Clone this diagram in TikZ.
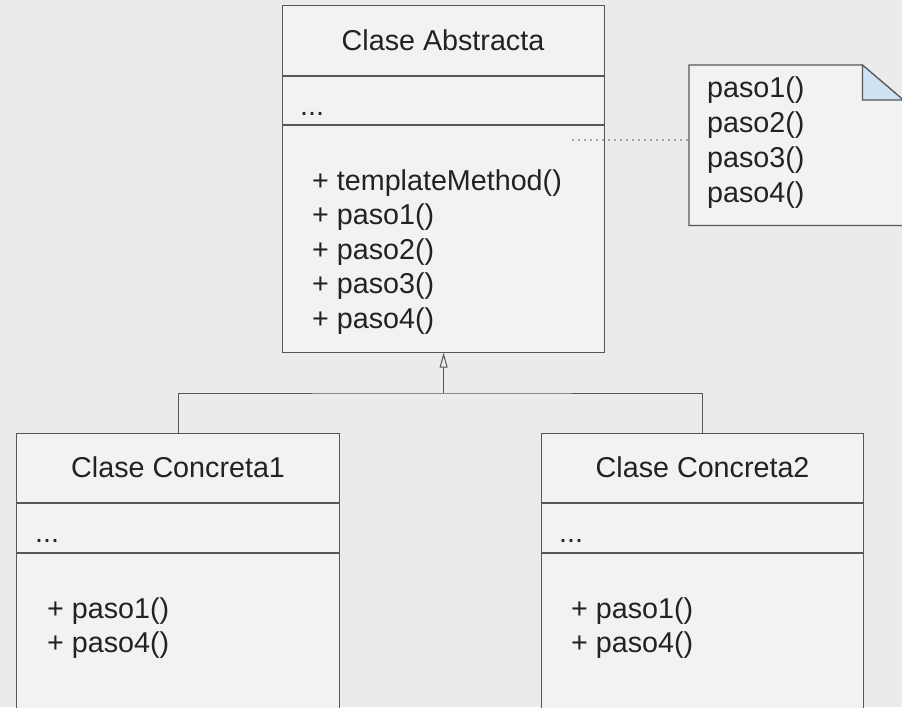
\documentclass[tikz,border=0pt]{standalone}
\usepackage{fontspec}
\setmainfont{Liberation Sans}
\usetikzlibrary{arrows.meta}
\definecolor{bg}{HTML}{EBEBEB}
\definecolor{boxfill}{HTML}{F2F2F2}
\definecolor{edge}{HTML}{575757}
\definecolor{ink}{HTML}{222222}
\definecolor{dots}{HTML}{4A5A6A}
\definecolor{foldfill}{HTML}{CFE2F3}
\begin{document}
\begin{tikzpicture}[x=1pt,y=-1pt,
  umltext/.style={font=\fontsize{28.7}{34}\selectfont, text=ink, inner sep=0pt, anchor=base west},
  umltitle/.style={umltext, anchor=base},
  classbox/.style={draw=edge, fill=boxfill, line width=1.2pt, inner sep=0pt, anchor=north west},
  divider/.style={draw=edge, line width=1.2pt},
  link/.style={draw=edge, line width=1pt}]
\useasboundingbox (0,0) rectangle (902,707);
\clip (0,0) rectangle (902,707);
\fill[bg] (0,0) rectangle (902,707);

% abstract class
\node[classbox, minimum width=322pt, minimum height=347pt] (abs) at (282,4.5) {};
\draw[divider] ([yshift=-71.5pt]abs.north west) -- ([yshift=-71.5pt]abs.north east);
\draw[divider] ([yshift=-120.5pt]abs.north west) -- ([yshift=-120.5pt]abs.north east);
\node[umltitle] (absname) at (443,50) {Clase Abstracta};
\node[umltext] (absattr) at (300,115) {...};
\node[umltext] (absm0) at (312,190) {+ templateMethod()};
\node[umltext] (absm1) at (312,224.5) {+ paso1()};
\node[umltext] (absm2) at (312,259) {+ paso2()};
\node[umltext] (absm3) at (312,293.5) {+ paso3()};
\node[umltext] (absm4) at (312,328) {+ paso4()};

% concrete classes
\node[classbox, minimum width=323pt, minimum height=300pt] (c1) at (16,433) {};
\draw[divider] ([yshift=-70pt]c1.north west) -- ([yshift=-70pt]c1.north east);
\draw[divider] ([yshift=-120pt]c1.north west) -- ([yshift=-120pt]c1.north east);
\node[umltitle] (c1name) at (c1.north |- 0,477) {Clase Concreta1};
\node[umltext] (c1attr) at (35,542) {...};
\node[umltext] (c1m1) at (47,618) {+ paso1()};
\node[umltext] (c1m4) at (47,652) {+ paso4()};

\node[classbox, minimum width=322pt, minimum height=300pt] (c2) at (541,433) {};
\draw[divider] ([yshift=-70pt]c2.north west) -- ([yshift=-70pt]c2.north east);
\draw[divider] ([yshift=-120pt]c2.north west) -- ([yshift=-120pt]c2.north east);
\node[umltitle] (c2name) at (c2.north |- 0,477) {Clase Concreta2};
\node[umltext] (c2attr) at (559,542) {...};
\node[umltext] (c2m1) at (571,618) {+ paso1()};
\node[umltext] (c2m4) at (571,652) {+ paso4()};

% generalisation
\coordinate (joint) at (abs.south |- 0,393);
\draw[link] (c1.north) |- (joint) -| (c2.north);
\draw[link, -{Triangle[open, length=15pt, width=8pt, line width=1pt]}] (joint) -- (abs.south);

% note with folded corner
\node[inner sep=0pt, minimum width=214pt, minimum height=160pt, anchor=north west] (note) at (689,65) {};
\draw[draw=edge, fill=boxfill, line width=1.2pt]
  (note.north west) -- ([xshift=-41pt]note.north east) -- ([yshift=-35pt]note.north east)
  -- (note.south east) -- (note.south west) -- cycle;
\draw[draw=edge, fill=foldfill, line width=1.2pt]
  ([xshift=-41pt]note.north east) -- ([xshift=-41pt,yshift=-35pt]note.north east)
  -- ([yshift=-35pt]note.north east) -- cycle;
\node[umltext] (n1) at (707,97) {paso1()};
\node[umltext] (n2) at (707,132) {paso2()};
\node[umltext] (n3) at (707,167) {paso3()};
\node[umltext] (n4) at (707,202) {paso4()};

% note anchor line
\coordinate (notelink) at (573,140);
\draw[dots, line width=1.8pt, line cap=round, dash pattern=on 0pt off 6pt] (notelink) -- (notelink -| note.west);
\end{tikzpicture}
\end{document}
